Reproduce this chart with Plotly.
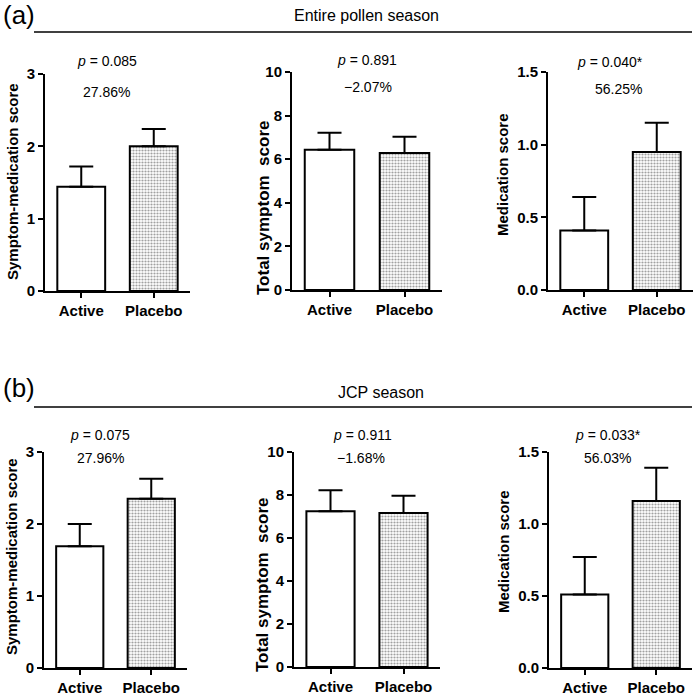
import plotly.graph_objects as go

W, H = 697, 696
FONT = "Arial, Liberation Sans, Helvetica, sans-serif"

# ---------------- data ----------------
categories = ["Active", "Placebo"]

# (a) Entire pollen season
a_smscore_mean = [1.44, 2.00]
a_smscore_sem = [0.28, 0.24]
a_tss_mean = [6.43, 6.28]
a_tss_sem = [0.78, 0.75]
a_med_mean = [0.41, 0.95]
a_med_sem = [0.23, 0.20]

# (b) JCP season
b_smscore_mean = [1.69, 2.35]
b_smscore_sem = [0.31, 0.28]
b_tss_mean = [7.25, 7.16]
b_tss_sem = [0.97, 0.80]
b_med_mean = [0.51, 1.16]
b_med_sem = [0.26, 0.23]

y_titles = ["Symptom-medication score", "Total symptom  score", "Medication score"]
y_ranges = [[0, 3], [0, 10], [0, 1.5]]
y_tickvals = [[0, 1, 2, 3], [0, 2, 4, 6, 8, 10], [0, 0.5, 1.0, 1.5]]
y_ticktext = [["0", "1", "2", "3"], ["0", "2", "4", "6", "8", "10"], ["0.0", "0.5", "1.0", "1.5"]]

a_p_texts = ["<i>p</i> = 0.085", "<i>p</i> = 0.891", "<i>p</i> = 0.040*"]
a_pct_texts = ["27.86%", "\u22122.07%", "56.25%"]
b_p_texts = ["<i>p</i> = 0.075", "<i>p</i> = 0.911", "<i>p</i> = 0.033*"]
b_pct_texts = ["27.96%", "\u22121.68%", "56.03%"]

section_labels = ["(a)", "(b)"]
section_titles = ["Entire pollen season", "JCP season"]

# ---------------- layout helpers ----------------
def px_x(x):
    return x / W


def px_y(y):
    return 1 - y / H


# pixel boxes of each panel: (x0, x1, ytop, ybottom)
boxes = [
    (45, 190, 74, 291), (292, 442, 72, 290), (548, 693, 72, 290),
    (44, 187, 452, 668), (294, 440, 452, 667), (549, 692, 452, 668),
]
means = [a_smscore_mean, a_tss_mean, a_med_mean, b_smscore_mean, b_tss_mean, b_med_mean]
sems = [a_smscore_sem, a_tss_sem, a_med_sem, b_smscore_sem, b_tss_sem, b_med_sem]

fig = go.Figure()
layout = dict(
    width=W, height=H, margin=dict(l=0, r=0, t=0, b=0, pad=0, autoexpand=False),
    autosize=False,
    paper_bgcolor="white", plot_bgcolor="white", showlegend=False,
    font=dict(family=FONT, color="black"),
)

for i, (box, m, s) in enumerate(zip(boxes, means, sems)):
    k = i % 3
    n = "" if i == 0 else str(i + 1)
    fig.add_trace(go.Bar(
        x=categories, y=m, xaxis="x" + n, yaxis="y" + n, width=0.66,
        marker=dict(
            color=["white", "white"],
            line=dict(color="black", width=2),
            pattern=dict(shape=["", "."], fgcolor="#5a5a5a", bgcolor="white",
                         size=3, solidity=0.42),
        ),
        error_y=dict(type="data", symmetric=False, array=s, arrayminus=[0, 0],
                     color="black", thickness=2, width=12),
    ))
    x0, x1, yt, yb = box
    layout["xaxis" + n] = dict(
        domain=[px_x(x0), px_x(x1)], anchor="y" + n, type="category",
        range=[-0.5, 1.5], showline=True, linecolor="black", linewidth=2,
        ticks="outside", ticklen=5, tickwidth=2, tickcolor="black",
        showgrid=False, zeroline=False, automargin=False,
        tickfont=dict(family=FONT, size=15, color="black", weight="bold"),
    )
    layout["yaxis" + n] = dict(
        domain=[px_y(yb), px_y(yt)], anchor="x" + n, range=y_ranges[k],
        tickvals=y_tickvals[k], ticktext=y_ticktext[k],
        showline=True, linecolor="black", linewidth=2,
        ticks="outside", ticklen=5, tickwidth=2, tickcolor="black",
        showgrid=False, zeroline=False, automargin=False,
        tickfont=dict(family=FONT, size=15, color="black", weight="bold"),
    )

fig.update_layout(**layout)

# ---------------- annotations ----------------
ann = []


def add_text(xp, yp, text, size, weight="normal", angle=0):
    ann.append(dict(x=px_x(xp), y=px_y(yp), xref="paper", yref="paper",
                    xanchor="center", yanchor="middle", text=text, textangle=angle,
                    showarrow=False,
                    font=dict(family=FONT, size=size, color="black", weight=weight)))


# y-axis titles (x px, y center px)
ytitle_pos = [(12, 182), (263, 208), (503, 175), (11, 557), (262, 585), (503, 552)]
ytitle_size = [15, 17, 15]
for i, (xp, yp) in enumerate(ytitle_pos):
    add_text(xp, yp, y_titles[i % 3], ytitle_size[i % 3], "bold", -90)

p_pos = [(107, 61), (367, 60), (610, 62), (100, 435), (362, 435), (608, 435)]
pct_pos = [(107, 92), (368, 87), (618, 89), (100, 458), (361, 458), (607, 458)]
for (xp, yp), t in zip(p_pos, a_p_texts + b_p_texts):
    add_text(xp, yp, t, 14)
for (xp, yp), t in zip(pct_pos, a_pct_texts + b_pct_texts):
    add_text(xp, yp, t, 14)

# section headers
sec_label_pos = [(19, 15), (19, 388)]
sec_title_pos = [(366, 16), (381, 392)]
sec_line_y = [32, 407]
shapes = []
for j in range(2):
    add_text(sec_label_pos[j][0], sec_label_pos[j][1], section_labels[j], 26)
    add_text(sec_title_pos[j][0], sec_title_pos[j][1], section_titles[j], 16)
    shapes.append(dict(type="line", xref="paper", yref="paper",
                       x0=px_x(34), x1=px_x(692), y0=px_y(sec_line_y[j]), y1=px_y(sec_line_y[j]),
                       line=dict(color="black", width=1.5)))

fig.update_layout(annotations=ann, shapes=shapes)
fig.write_html(
    "out.html",
    config={"responsive": False, "displayModeBar": False},
    post_script="document.body.style.margin='0px';document.body.style.overflow='hidden';",
)
